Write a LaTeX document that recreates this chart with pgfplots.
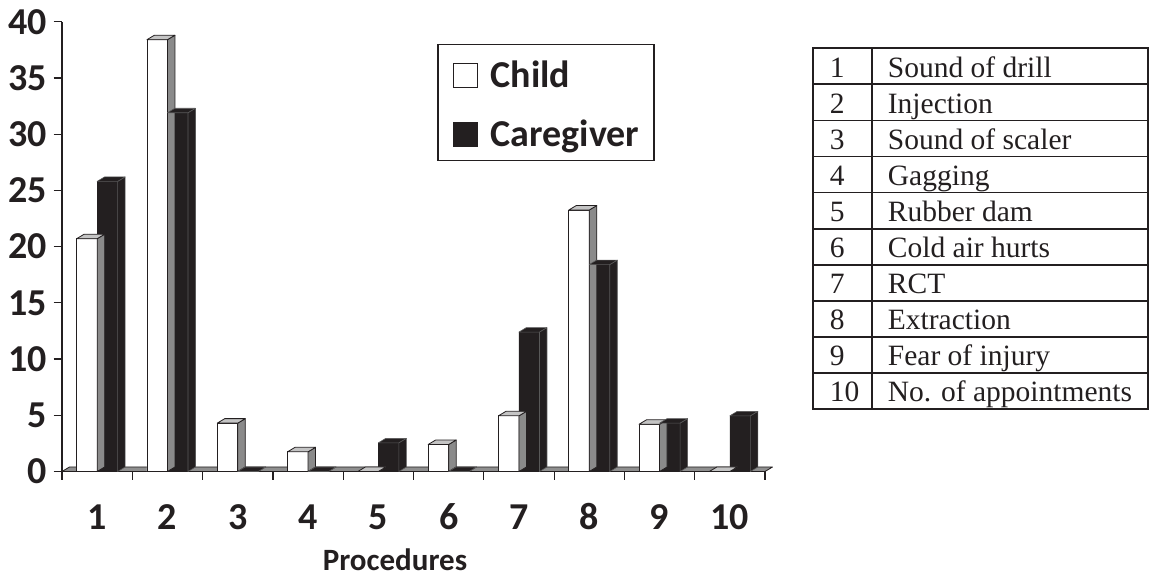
\documentclass[border=0pt]{standalone}
\usepackage{fontspec}
\setmainfont{Carlito}
\newfontfamily\tnr{Liberation Serif}
\usepackage{pgfplots}
\usepackage{pgfplotstable}
\pgfplotsset{compat=1.18}
\definecolor{ink}{HTML}{231F20}
\definecolor{sidegray}{HTML}{8A8A8A}
\definecolor{topgray}{HTML}{C4C4C4}
\definecolor{floorgray}{HTML}{8F8F8F}

\pgfplotstableread{
cat child care
1 20.7 25.8
2 38.4 31.9
3 4.3 0
4 1.75 0
5 0 2.55
6 2.4 0
7 4.95 12.4
8 23.25 18.4
9 4.2 4.3
10 0 4.95
}\data

% 3D faces (top and side) of the bars, drawn at the top of each bar
\pgfdeclareplotmark{childface}{%
  \pgfmathsetmacro\hh{\rawy*11.245}%
  \pgfmathsetmacro\yb{4.5-\hh}%
  \filldraw[draw=ink, fill=sidegray, line width=0.8pt, line join=round]
    (0pt,0pt) -- (7.5pt,4.5pt) -- (7.5pt,\yb pt) -- (0pt,-\hh pt) -- cycle;
  \filldraw[draw=ink, fill=topgray, line width=0.8pt, line join=round]
    (-20.5pt,0pt) -- (0pt,0pt) -- (7.5pt,4.5pt) -- (-13pt,4.5pt) -- cycle;
}
\pgfdeclareplotmark{careface}{%
  \pgfmathsetmacro\hh{\rawy*11.245}%
  \pgfmathsetmacro\yb{4.5-\hh}%
  \filldraw[draw=black!65, fill=ink, line width=0.6pt, line join=round]
    (20.5pt,0pt) -- (28pt,4.5pt) -- (28pt,\yb pt) -- (20.5pt,-\hh pt) -- cycle;
  \filldraw[draw=black!65, fill=ink, line width=0.6pt, line join=round]
    (0pt,0pt) -- (20.5pt,0pt) -- (28pt,4.5pt) -- (7.5pt,4.5pt) -- cycle;
}

\begin{document}
\begin{tikzpicture}
\begin{axis}[
  x=70.3pt, y=11.245pt,
  xmin=0.5, xmax=10.5, ymin=0, ymax=40,
  clip=false,
  axis x line*=bottom, axis y line*=left,
  axis line style={-, line width=1.2pt, draw=ink},
  tick align=outside, major tick length=8.5pt,
  tick style={line width=1.2pt, draw=ink},
  xtick={0.5,1.5,...,10.5},
  x tick label as interval,
  xticklabels={1,2,3,4,5,6,7,8,9,10},
  ytick={0,5,...,40},
  yticklabels={0,5,10,15,20,25,30,35,40},
  xticklabel style={font=\bfseries\fontsize{38}{38}\selectfont, text=ink, anchor=base, inner sep=0pt, yshift=-50pt},
  yticklabel style={font=\bfseries\fontsize{38}{38}\selectfont, text=ink, anchor=east, inner sep=0pt, xshift=-6.5pt},
  xlabel={Procedures},
  xlabel style={font=\bfseries\fontsize{31}{31}\selectfont, text=ink, at={(axis description cs:0.4737,0)}, anchor=base, inner sep=0pt, yshift=-99.5pt},
  legend style={at={(axis description cs:0.5341,0.9515)}, anchor=north west,
    draw=ink, line width=1.5pt, inner xsep=14.5pt, inner ysep=13pt,
    row sep=28pt, column sep=13pt,
    font=\bfseries\fontsize{38}{38}\selectfont, text=ink,
    cells={anchor=base west},
    nodes={inner sep=0pt, text height=30pt, text depth=1pt}},
]
% floor
\filldraw[fill=floorgray, draw=ink, line width=0.8pt, line join=round]
  (axis cs:0.5,0) -- (axis cs:10.5,0) -- ([xshift=7.5pt,yshift=4.5pt]axis cs:10.5,0)
  -- ([xshift=7.5pt,yshift=4.5pt]axis cs:0.5,0) -- cycle;

\addplot[ybar, bar width=20.5pt, bar shift=-10.25pt, fill=white, draw=ink, line width=0.8pt,
  legend image code/.code={\draw[fill=white, draw=ink, line width=1pt] (0pt,0pt) rectangle (24pt,23.5pt);}]
  table[x=cat, y=child] {\data};
\addlegendentry{Child}
\addplot[forget plot, scatter, only marks, mark=childface,
  visualization depends on={rawy \as \rawy}]
  table[x=cat, y=child] {\data};

\addplot[ybar, bar width=20.5pt, bar shift=10.25pt, fill=ink, draw=ink, line width=0.6pt,
  legend image code/.code={\fill[ink] (0pt,0pt) rectangle (24pt,23.5pt);}]
  table[x=cat, y=care] {\data};
\addlegendentry{Caregiver}
\addplot[forget plot, scatter, only marks, mark=careface,
  visualization depends on={rawy \as \rawy}]
  table[x=cat, y=care] {\data};
\end{axis}

% legend table of procedures
\begin{scope}[ink, line width=1.8pt]
\draw (751pt,62.5pt) rectangle (1086pt,423.2pt);
\draw (810pt,62.5pt) -- (810pt,423.2pt);
\foreach \i in {1,...,9} {
  \draw (751pt,{(423.2-\i*36.07)*1pt}) -- (1086pt,{(423.2-\i*36.07)*1pt});
}
\foreach \n/\t [count=\i] in {1/Sound of drill, 2/Injection, 3/Sound of scaler, 4/Gagging, 5/Rubber dam, 6/Cold air hurts, 7/RCT, 8/Extraction, 9/Fear of injury, 10/No. of appointments} {
  \node[anchor=base west, inner sep=0pt, font=\tnr\fontsize{29.5}{29.5}\selectfont, text=ink]
    at (767pt,{(423.2-\i*36.07+7.3)*1pt}) {\n};
  \node[anchor=base west, inner sep=0pt, font=\tnr\fontsize{29.5}{29.5}\selectfont, text=ink]
    at (825pt,{(423.2-\i*36.07+7.3)*1pt}) {\t};
}
\end{scope}

\pgfresetboundingbox
\path[use as bounding box] (-62pt,-105.5pt) rectangle (1089pt,471.5pt);
\end{tikzpicture}
\end{document}
